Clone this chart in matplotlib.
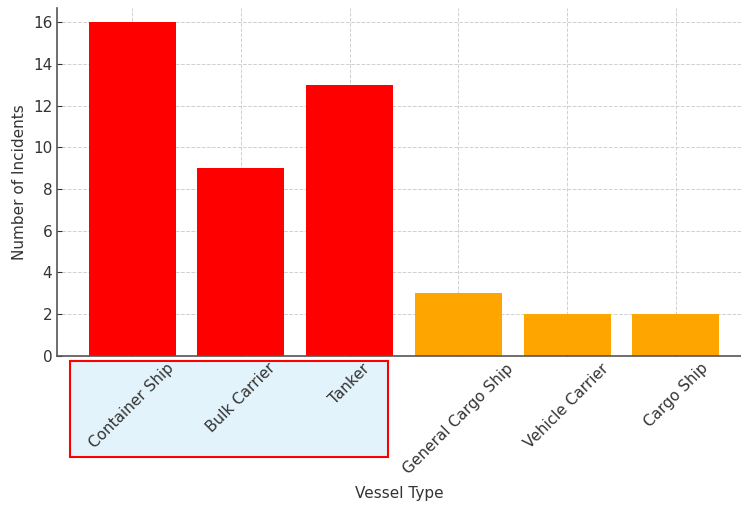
import matplotlib
matplotlib.use('Agg')
import matplotlib.pyplot as plt
import matplotlib.transforms as mtransforms
from matplotlib.patches import Rectangle

vessel_types = ['Container Ship', 'Bulk Carrier', 'Tanker',
                'General Cargo Ship', 'Vehicle Carrier', 'Cargo Ship']
incidents = [16, 9, 13, 3, 2, 2]
bar_colors = ['red', 'red', 'red', 'orange', 'orange', 'orange']

fig = plt.figure(figsize=(7.41, 5.12), dpi=100)
ax = fig.add_axes([0.077, 0.305, 0.923, 0.68])

x = list(range(len(vessel_types)))
ax.bar(x, incidents, width=0.8, color=bar_colors, zorder=2)

ax.set_xticks(x)
ax.set_xticklabels(vessel_types, rotation=45, fontsize=11, color='#333333')
ax.set_xlim(-0.69, 5.6)
ax.set_ylim(0, 16.7)
ax.set_yticks(range(0, 17, 2))
ax.tick_params(axis='y', labelsize=11, labelcolor='#333333')
ax.tick_params(direction='in', color='#333333')

ax.grid(True, linestyle='--', color='#d0d0d0', linewidth=0.7, zorder=0)
ax.set_axisbelow(True)
for s in ['top', 'right']:
    ax.spines[s].set_visible(False)
for s in ['left', 'bottom']:
    ax.spines[s].set_color('#555555')
    ax.spines[s].set_linewidth(1.2)

ax.set_xlabel('Vessel Type', fontsize=11, color='#333333', labelpad=7)
ax.set_ylabel('Number of Incidents', fontsize=11, color='#333333')

# highlight box behind first three labels
trans = mtransforms.blended_transform_factory(ax.transData, ax.transAxes)
box = Rectangle((-0.57, -0.29), 2.92, 0.275, transform=trans,
                facecolor='#e3f3fb', edgecolor='red', linewidth=1.5,
                clip_on=False, zorder=0)
ax.add_patch(box)

fig.savefig('out.png', dpi=100)
